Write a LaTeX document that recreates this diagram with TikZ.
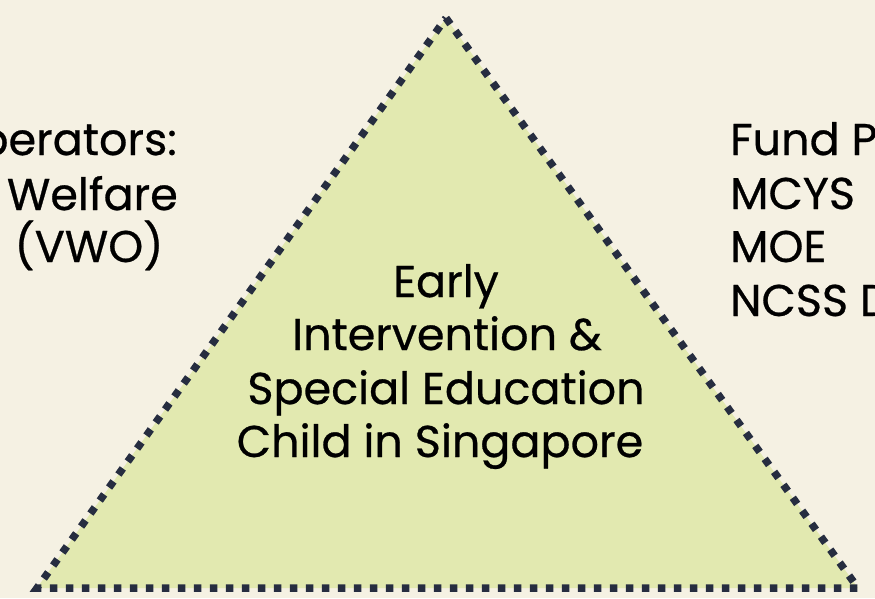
\documentclass[tikz,border=0pt]{standalone}
\usepackage{fontspec}
\setmainfont{Poppins}[FakeBold=0.6]
\definecolor{bgc}{HTML}{F5F1E3}
\definecolor{fillc}{HTML}{E2E9B0}
\definecolor{edgec}{HTML}{262D40}
\begin{document}
\begin{tikzpicture}[x=1pt,y=-1pt,
  txt/.style={font=\fontsize{44.5}{53}\selectfont, inner sep=0pt, text=black}]
\useasboundingbox (0,0) rectangle (875,598);
\fill[bgc] (0,0) rectangle (875,598);
\begin{scope}
\clip (0,0) rectangle (875,598);
\coordinate (apex) at (446,18);
\coordinate (bl) at (37,588);
\coordinate (br) at (858,588);
\fill[fillc] (apex) -- (br) -- (bl) -- cycle;
\draw[edgec, line width=7.5pt, dash pattern=on 7.5pt off 8.5pt] (apex) -- (br) -- (bl) -- cycle;
\node[txt, anchor=base] (l1) at (446,297) {Early};
\node[txt, anchor=base] (l2) at (447,350) {Intervention \&};
\node[txt, anchor=base] (l3) at (446,404) {Special Education};
\node[txt, anchor=base] (l4) at (440,457) {Child in Singapore};
\node[txt, anchor=base east] (a1) at (177,155) {perators:};
\node[txt, anchor=base east] (a2) at (178,210) {Welfare};
\node[txt, anchor=base] (a3) at (89,262) {(VWO)};
\node[txt, anchor=base west] (b1) at (730,155) {Fund P};
\node[txt, anchor=base west] (b2) at (730,209) {MCYS};
\node[txt, anchor=base west] (b3) at (730,262) {MOE};
\node[txt, anchor=base west] (b4) at (730,316) {NCSS D};
\end{scope}
\end{tikzpicture}
\end{document}
